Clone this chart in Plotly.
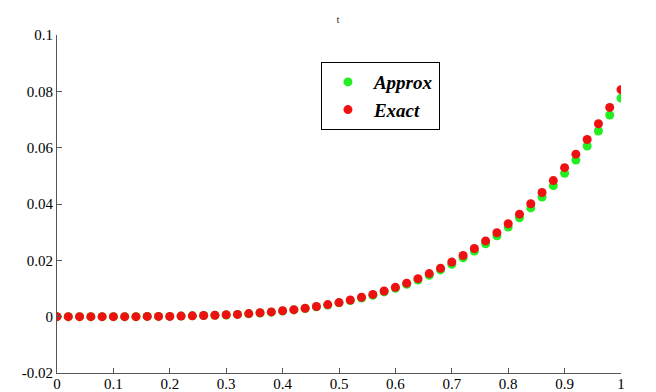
import plotly.graph_objects as go

x_vals = [round(0.02 * i, 2) for i in range(51)]

exact_vals = [0.0000, 0.0000, 0.0000, 0.0000, 0.0000, 0.0000, 0.0000, 0.0000, 0.0001, 0.0001,
              0.0001, 0.0002, 0.0003, 0.0004, 0.0005, 0.0007, 0.0008, 0.0011, 0.0014, 0.0017,
              0.0021, 0.0025, 0.0030, 0.0036, 0.0043, 0.0050, 0.0059, 0.0069, 0.0079, 0.0091,
              0.0104, 0.0119, 0.0135, 0.0153, 0.0172, 0.0194, 0.0217, 0.0242, 0.0269, 0.0298,
              0.0330, 0.0364, 0.0401, 0.0441, 0.0483, 0.0529, 0.0577, 0.0629, 0.0685, 0.0743,
              0.0806]

approx_vals = [0.0000, 0.0000, 0.0000, 0.0000, 0.0000, 0.0000, 0.0000, 0.0000, 0.0001, 0.0001,
               0.0001, 0.0002, 0.0003, 0.0004, 0.0005, 0.0006, 0.0008, 0.0010, 0.0013, 0.0016,
               0.0020, 0.0024, 0.0029, 0.0035, 0.0041, 0.0049, 0.0057, 0.0066, 0.0076, 0.0088,
               0.0101, 0.0115, 0.0130, 0.0147, 0.0166, 0.0186, 0.0209, 0.0233, 0.0259, 0.0287,
               0.0318, 0.0351, 0.0386, 0.0425, 0.0465, 0.0509, 0.0556, 0.0606, 0.0659, 0.0716,
               0.0776]

x_ticks = [0, 0.1, 0.2, 0.3, 0.4, 0.5, 0.6, 0.7, 0.8, 0.9, 1]
x_tick_text = ["0", "0.1", "0.2", "0.3", "0.4", "0.5", "0.6", "0.7", "0.8", "0.9", "1"]
y_ticks = [-0.02, 0, 0.02, 0.04, 0.06, 0.08, 0.1]
y_tick_text = ["-0.02", "0", "0.02", "0.04", "0.06", "0.08", "0.1"]

serif = "Liberation Serif, Times New Roman, serif"

fig = go.Figure()
fig.add_trace(go.Scatter(x=x_vals, y=approx_vals, mode="markers", name="Approx",
                         marker=dict(color="#22ee22", size=9, symbol="circle")))
fig.add_trace(go.Scatter(x=x_vals, y=exact_vals, mode="markers", name="Exact",
                         marker=dict(color="#ee1111", size=9, symbol="circle")))

fig.update_layout(
    width=656, height=392,
    margin=dict(l=49, r=43, t=27, b=27, autoexpand=False),
    paper_bgcolor="white", plot_bgcolor="white",
    title=dict(text="t", x=0.503, xanchor="center", y=0.972, yanchor="middle",
               font=dict(family=serif, size=11, color="#333")),
    font=dict(family=serif, size=14, color="black"),
    legend=dict(x=0.468, y=0.92, xanchor="left", yanchor="top",
                bordercolor="black", borderwidth=1, bgcolor="white",
                font=dict(family=serif, size=19, style="italic", weight="bold"),
                itemwidth=42, tracegroupgap=0),
    showlegend=True,
)
fig.update_xaxes(range=[0, 1], tickvals=x_ticks, ticktext=x_tick_text, automargin=False,
                 showgrid=False, zeroline=False, showline=True, linecolor="#555",
                 linewidth=1, ticks="inside", ticklen=5, tickcolor="#555",
                 ticklabelstandoff=-3,
                 tickfont=dict(family=serif, size=15))
fig.update_yaxes(range=[-0.02, 0.1], tickvals=y_ticks, ticktext=y_tick_text, automargin=False,
                 showgrid=False, zeroline=False, showline=True, linecolor="#555",
                 linewidth=1, ticks="inside", ticklen=5, tickcolor="#555",
                 tickfont=dict(family=serif, size=15))

fig.write_html("out.html")
